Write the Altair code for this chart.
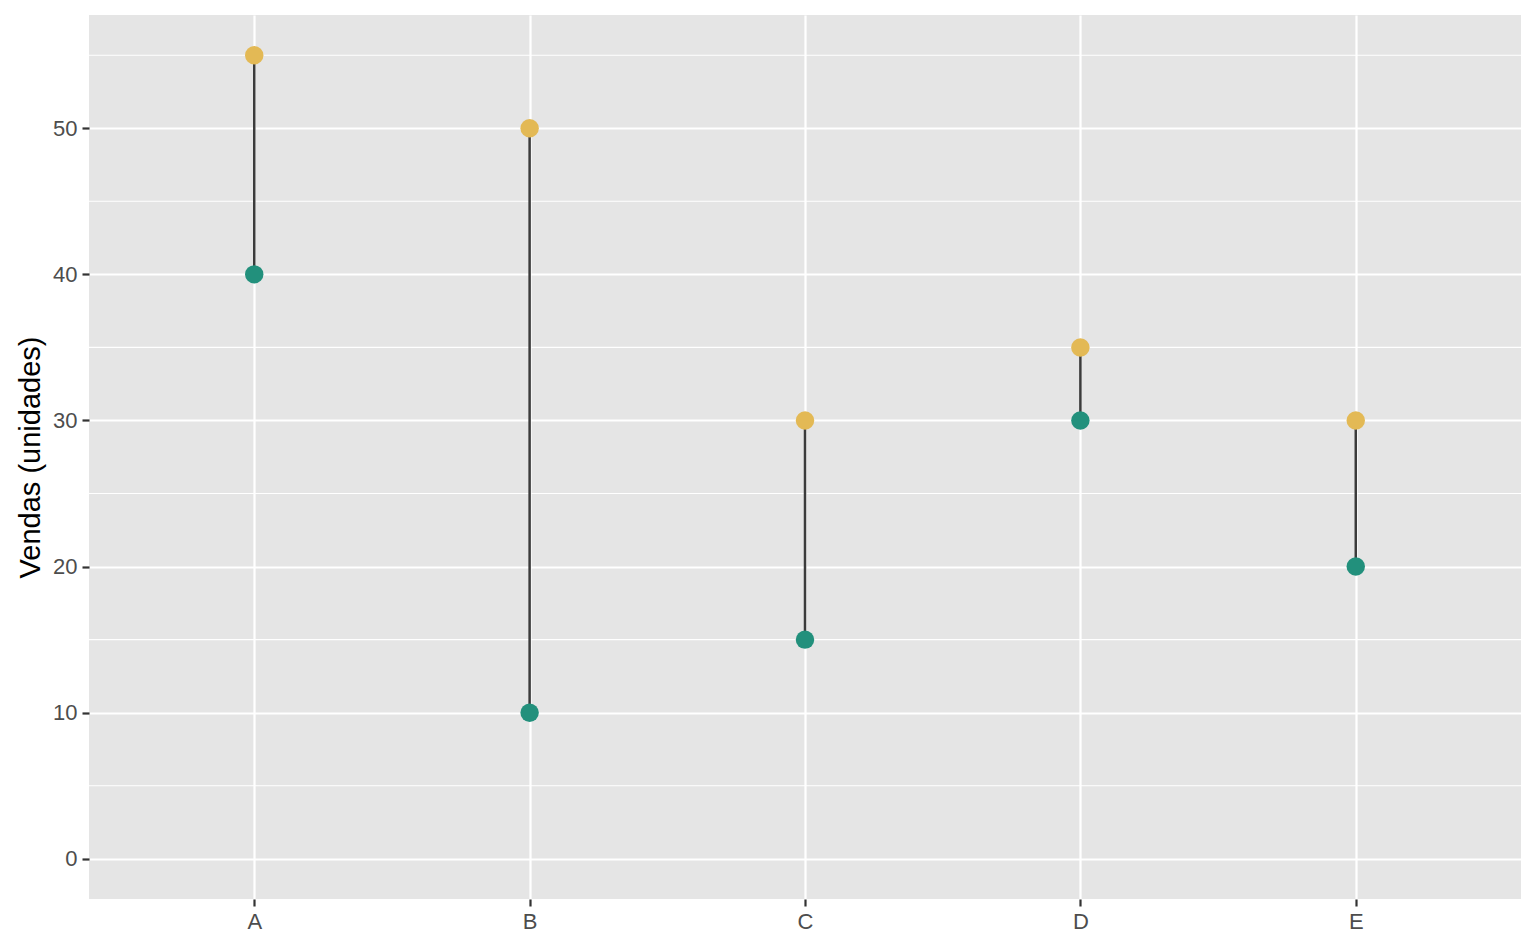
import altair as alt
import pandas as pd

categories = ["A", "B", "C", "D", "E"]
low_values = [40, 10, 15, 30, 20]
high_values = [55, 50, 30, 35, 30]
major_ticks = [0, 10, 20, 30, 40, 50]
minor_ticks = [5, 15, 25, 35, 45, 55]

seg = pd.DataFrame({"cat": categories, "low": low_values, "high": high_values})
pts = pd.DataFrame({
    "cat": categories + categories,
    "valor": low_values + high_values,
    "serie": ["baixo"] * 5 + ["alto"] * 5,
})
minor = pd.DataFrame({"v": minor_ticks})

yscale = alt.Scale(domain=[-2.75, 57.75], nice=False, zero=False)
xscale = alt.Scale(type="point", domain=categories, padding=0.6)

xaxis = alt.Axis(labelAngle=0, grid=True)
yaxis = alt.Axis(values=major_ticks, grid=True)

minor_rules = alt.Chart(minor).mark_rule(color="white", strokeWidth=1.1).encode(
    y=alt.Y("v:Q", scale=yscale, axis=yaxis, title="Vendas (unidades)")
)

segments = alt.Chart(seg).mark_rule(color="#3B3B3B", strokeWidth=2.5).encode(
    x=alt.X("cat:N", scale=xscale, title=None, axis=xaxis),
    y=alt.Y("low:Q", scale=yscale, title="Vendas (unidades)", axis=yaxis),
    y2="high:Q",
)

points = alt.Chart(pts).mark_circle(size=340, opacity=1).encode(
    x=alt.X("cat:N", scale=xscale, title=None, axis=xaxis),
    y=alt.Y("valor:Q", scale=yscale, title="Vendas (unidades)", axis=yaxis),
    color=alt.Color("serie:N", scale=alt.Scale(domain=["baixo", "alto"],
                                               range=["#22907C", "#E3B955"]), legend=None),
)

chart = alt.layer(minor_rules, segments, points).properties(
    width=1432, height=884,
    autosize=alt.AutoSizeParams(type="none"),
    padding={"left": 81, "top": 7, "right": 7, "bottom": 42},
).configure_view(fill="#E5E5E5", stroke=None).configure_axis(
    gridColor="white", gridWidth=2.2, domain=False,
    tickColor="#333333", tickSize=7, tickWidth=2.2,
    labelColor="#4D4D4D", labelFontSize=22, labelPadding=5,
    labelFont="Liberation Sans", titleFont="Liberation Sans",
    titleFontSize=29, titleFontWeight="normal", titleColor="black",
    titlePadding=7,
)

chart.save("out.html", embed_options={"renderer": "svg", "actions": False})
